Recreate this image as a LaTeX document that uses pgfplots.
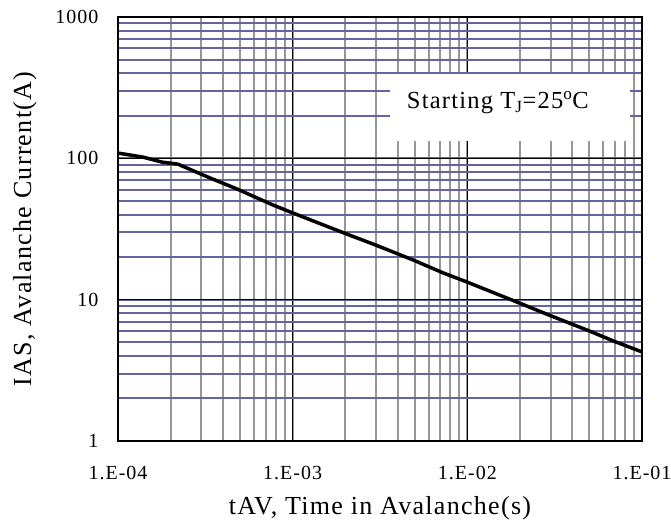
\documentclass[border=0pt]{standalone}
\usepackage{fontspec}
\setmainfont[LetterSpace=5]{Liberation Serif}
\usepackage{pgfplots}
\pgfplotsset{compat=1.18}
\definecolor{minorv}{RGB}{150,150,150}
\definecolor{minorh}{RGB}{100,100,160}
\begin{document}
\begin{tikzpicture}
\begin{axis}[
    scale only axis,
    width=524pt, height=424pt,
    xmode=log, ymode=log,
    xmin=1e-4, xmax=1e-1,
    ymin=1, ymax=1000,
    xtick={1e-4,1e-3,1e-2,1e-1},
    xticklabels={1.E-04,1.E-03,1.E-02,1.E-01},
    ytick={1,10,100,1000},
    yticklabels={1,10,100,1000},
    tick style={draw=none},
    grid=both,
    major grid style={black, line width=1.6pt},
    minor x grid style={minorv, line width=2pt},
    minor y grid style={minorh, line width=2pt},
    axis line style={black, line width=2pt},
    ticklabel style={font=\fontsize{20}{24}\selectfont},
    xticklabel style={yshift=-22pt},
    yticklabel style={xshift=-16pt},
    clip=false,
]
\fill[white] (rel axis cs:0.519,0.7075) rectangle (rel axis cs:0.977,0.866);
\node[font=\fontsize{24.5}{28}\selectfont] at (rel axis cs:0.725,0.797)
    {Starting T\textsubscript{J}=25\textsuperscript{o}C};
\addplot[black, line width=3.5pt, line join=round, mark=none] coordinates {
    (1e-4,109)(1.39e-4,102)(1.79e-4,94)(2.2e-4,91)(3.36e-4,72.7)
    (4.8e-4,60.7)(7.7e-4,46.8)(1e-3,41.1)(2e-3,29.4)(3e-3,24.3)
    (4.89e-3,19.1)(7.24e-3,15.5)(1e-2,13.3)(1.92e-2,9.63)(3e-2,7.7)
    (4.84e-2,6.1)(7e-2,5.05)(1e-1,4.27)
};
\node[font=\fontsize{26}{30}\selectfont] at ([yshift=-67pt]rel axis cs:0.5,0)
    {tAV, Time in Avalanche(s)};
\node[font=\fontsize{26}{30}\selectfont, rotate=90] at ([xshift=-93pt]rel axis cs:0,0.5)
    {IAS, Avalanche Current(A)};
\coordinate (sw) at (rel axis cs:0,0);
\coordinate (ne) at (rel axis cs:1,1);
\end{axis}
\pgfresetboundingbox
\path ([xshift=-118pt,yshift=-84pt]sw) rectangle ([xshift=29pt,yshift=17pt]ne);
\end{tikzpicture}
\end{document}
